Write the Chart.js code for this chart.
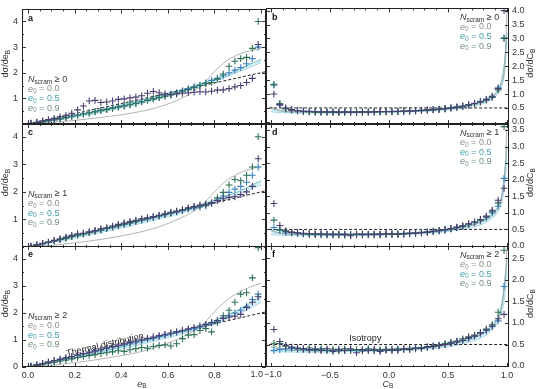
<!DOCTYPE html>
<html>
<head>
<meta charset="utf-8">
<script src="https://cdn.jsdelivr.net/npm/chart.js@4.4.0/dist/chart.umd.min.js"></script>
<style>
html, body { margin: 0; padding: 0; background: #fff; }
#wrap { position: relative; width: 540px; height: 389px; }
#wrap canvas { position: absolute; left: 0; top: 0; }
</style>
</head>
<body>
<div id="wrap">
<canvas id="pa" width="540" height="389"></canvas>
<canvas id="pb" width="540" height="389"></canvas>
<canvas id="pc" width="540" height="389"></canvas>
<canvas id="pd" width="540" height="389"></canvas>
<canvas id="pe" width="540" height="389"></canvas>
<canvas id="pf" width="540" height="389"></canvas>
</div>
<script>
// bin centres
const eBins = [0.0125,0.0375,0.0625,0.0875,0.1125,0.1375,0.1625,0.1875,0.2125,0.2375,0.2625,0.2875,0.3125,0.3375,0.3625,0.3875,0.4125,0.4375,0.4625,0.4875,0.5125,0.5375,0.5625,0.5875,0.6125,0.6375,0.6625,0.6875,0.7125,0.7375,0.7625,0.7875,0.8125,0.8375,0.8625,0.8875,0.9125,0.9375,0.9625,0.9875];
const cBins = [-0.975,-0.925,-0.875,-0.825,-0.775,-0.725,-0.675,-0.625,-0.575,-0.525,-0.475,-0.425,-0.375,-0.325,-0.275,-0.225,-0.175,-0.125,-0.075,-0.025,0.025,0.075,0.125,0.175,0.225,0.275,0.325,0.375,0.425,0.475,0.525,0.575,0.625,0.675,0.725,0.775,0.825,0.875,0.925,0.975];

// model curve grids
const eGrid = [0,0.1,0.2,0.3,0.4,0.5,0.6,0.7,0.75,0.8,0.85,0.9,0.95,1.0];
const cGrid = [-1.0,-0.95,-0.9,-0.8,-0.6,-0.4,-0.2,0,0.2,0.4,0.6,0.7,0.8,0.85,0.9,0.95,0.98,1.0];

// reference lines (thermal distribution, isotropy)
const thermalE = [0, 1.05];
const thermalV = [0, 2.1];
const isoC = [-1.1, 1.1];
const isoV = [0.5, 0.5];

// tick labels
const eTickLabels = [0, 0.2, 0.4, 0.6, 0.8, 1.0];
const eMinor = [0,0.05,0.1,0.15,0.2,0.25,0.3,0.35,0.4,0.45,0.5,0.55,0.6,0.65,0.7,0.75,0.8,0.85,0.9,0.95,1];
const cTickLabels = [-1.0, -0.5, 0.0, 0.5, 1.0];
const cMinor = [-1,-0.9,-0.8,-0.7,-0.6,-0.5,-0.4,-0.3,-0.2,-0.1,0,0.1,0.2,0.3,0.4,0.5,0.6,0.7,0.8,0.9,1];
const yLabelsAC = [1, 2, 3, 4];
const yLabelsE = [0, 1, 2, 3, 4];
const yMinorLeft = [0,0.5,1,1.5,2,2.5,3,3.5,4];
const yLabelsB = [0,0.5,1,1.5,2,2.5,3,3.5,4];
const yLabelsD = [0,0.5,1,1.5,2,2.5,3,3.5];
const yLabelsF = [0,0.5,1,1.5,2,2.5];

// panel a (N_scram >= 0), e0 = 0.0 / 0.5 / 0.9
const aE00 = [0.03,0.07,0.12,0.17,0.22,0.28,0.34,0.42,0.55,0.7,0.9,0.92,0.84,0.86,0.9,0.96,0.98,1.02,1.05,1.1,1.2,1.27,1.22,1.17,1.15,1.17,1.2,1.22,1.24,1.26,1.25,1.28,1.32,1.33,1.38,1.45,1.5,1.62,1.78,3.1];
const aE05 = [0.02,0.05,0.08,0.12,0.16,0.2,0.25,0.3,0.34,0.39,0.43,0.47,0.52,0.56,0.61,0.66,0.7,0.75,0.8,0.86,0.92,0.98,1.03,1.08,1.13,1.2,1.26,1.34,1.42,1.5,1.58,1.62,1.75,1.95,2.25,2.45,2.55,2.6,2.95,4.0];
const aE09 = [0.02,0.05,0.09,0.13,0.17,0.21,0.26,0.3,0.35,0.4,0.44,0.49,0.54,0.58,0.63,0.68,0.72,0.77,0.82,0.87,0.93,0.98,1.04,1.1,1.16,1.22,1.3,1.38,1.45,1.52,1.6,1.7,1.78,1.88,2.0,2.1,2.2,2.35,2.55,3.0];
const aM1 = [0,0.06,0.14,0.24,0.36,0.52,0.78,1.2,1.55,2.05,2.45,2.7,2.85,2.95];
const aM2 = [0,0.15,0.32,0.52,0.74,0.96,1.2,1.45,1.6,1.75,1.92,2.12,2.32,2.52];
const aM3 = [0,0.12,0.26,0.43,0.62,0.83,1.07,1.35,1.5,1.66,1.83,2.02,2.2,2.4];

// panel c (N_scram >= 1)
const cE00 = [0.03,0.08,0.13,0.18,0.24,0.3,0.36,0.42,0.48,0.5,0.55,0.6,0.66,0.7,0.76,0.82,0.87,0.92,0.97,1.02,1.06,1.1,1.15,1.2,1.26,1.3,1.35,1.42,1.47,1.52,1.55,1.6,1.68,1.75,1.8,1.82,1.9,2.0,2.2,3.2];
const cE05 = [0.02,0.07,0.12,0.17,0.22,0.27,0.32,0.38,0.44,0.48,0.53,0.58,0.62,0.68,0.73,0.78,0.84,0.88,0.94,0.99,1.04,1.09,1.14,1.19,1.24,1.28,1.34,1.4,1.45,1.48,1.52,1.6,1.78,1.98,2.25,2.45,2.4,2.6,2.9,4.0];
const cE09 = [0.02,0.07,0.12,0.17,0.22,0.27,0.33,0.38,0.43,0.48,0.53,0.57,0.62,0.67,0.72,0.77,0.82,0.87,0.92,0.97,1.02,1.07,1.12,1.17,1.22,1.27,1.32,1.38,1.42,1.45,1.5,1.58,1.7,1.85,1.98,2.1,2.2,2.35,2.6,2.9];
const cM1 = [0,0.06,0.15,0.26,0.4,0.58,0.85,1.25,1.55,2.0,2.4,2.65,2.82,2.92];
const cM2 = [0,0.18,0.37,0.56,0.76,0.97,1.18,1.42,1.55,1.7,1.85,2.0,2.2,2.4];
const cM3 = [0,0.15,0.32,0.5,0.69,0.89,1.1,1.33,1.47,1.6,1.75,1.9,2.08,2.25];

// panel e (N_scram >= 2)
const eE00 = [0.03,0.08,0.13,0.18,0.24,0.29,0.34,0.39,0.45,0.5,0.55,0.6,0.66,0.71,0.76,0.81,0.86,0.91,0.96,1.01,1.06,1.11,1.16,1.21,1.26,1.31,1.36,1.41,1.46,1.52,1.58,1.65,1.72,1.8,1.85,1.88,1.95,2.2,2.4,2.6];
const eE05 = [0.02,0.06,0.1,0.14,0.18,0.22,0.26,0.31,0.35,0.39,0.43,0.46,0.5,0.53,0.56,0.6,0.58,0.64,0.68,0.72,0.7,0.76,0.8,0.82,0.78,0.86,1.05,1.18,1.2,1.35,1.42,1.3,1.65,1.9,2.1,2.4,2.7,2.75,3.3,4.42];
const eE09 = [0.03,0.08,0.13,0.18,0.23,0.28,0.33,0.38,0.43,0.48,0.53,0.58,0.63,0.68,0.73,0.78,0.83,0.88,0.93,0.98,1.03,1.08,1.13,1.18,1.23,1.28,1.33,1.38,1.42,1.48,1.55,1.62,1.7,1.8,1.9,2.0,2.1,2.25,2.5,2.7];
const eM1 = [0,0.07,0.16,0.28,0.42,0.6,0.88,1.28,1.58,2.05,2.45,2.75,2.95,3.1];
const eM2 = [0,0.17,0.35,0.54,0.74,0.95,1.17,1.42,1.56,1.72,1.9,2.1,2.35,2.6];
const eM3 = [0,0.14,0.3,0.48,0.67,0.87,1.08,1.32,1.45,1.6,1.77,1.95,2.15,2.4];

// panel b (N_scram >= 0)
const bE00 = [1.0,0.62,0.5,0.44,0.4,0.38,0.37,0.36,0.36,0.35,0.36,0.35,0.36,0.34,0.35,0.36,0.35,0.36,0.37,0.36,0.37,0.38,0.38,0.39,0.4,0.41,0.43,0.44,0.45,0.47,0.5,0.53,0.56,0.6,0.66,0.72,0.8,0.92,1.2,4.0];
const bE05 = [1.35,0.66,0.47,0.42,0.39,0.37,0.36,0.35,0.34,0.35,0.34,0.33,0.34,0.35,0.36,0.34,0.36,0.35,0.36,0.37,0.36,0.37,0.39,0.38,0.4,0.4,0.42,0.43,0.46,0.48,0.49,0.52,0.57,0.61,0.65,0.71,0.78,0.88,1.15,3.0];
const bE09 = [1.32,0.6,0.46,0.43,0.41,0.39,0.38,0.37,0.36,0.36,0.35,0.36,0.35,0.36,0.34,0.35,0.36,0.37,0.36,0.37,0.38,0.37,0.38,0.4,0.39,0.42,0.42,0.45,0.45,0.47,0.5,0.54,0.55,0.62,0.67,0.74,0.82,0.9,1.22,3.02];
const bM1 = [0.55,0.44,0.39,0.36,0.35,0.35,0.36,0.37,0.39,0.44,0.53,0.61,0.73,0.83,0.98,1.35,2.0,4.0];
const bM2 = [0.5,0.42,0.38,0.35,0.34,0.35,0.36,0.37,0.4,0.45,0.55,0.63,0.76,0.87,1.03,1.42,2.2,3.2];
const bM3 = [0.36,0.34,0.33,0.32,0.32,0.32,0.33,0.34,0.36,0.4,0.48,0.55,0.66,0.76,0.9,1.22,1.8,2.9];

// panel d (N_scram >= 1)
const dE00 = [1.28,0.62,0.46,0.42,0.4,0.38,0.37,0.36,0.37,0.35,0.36,0.34,0.35,0.31,0.36,0.35,0.34,0.36,0.35,0.37,0.36,0.35,0.37,0.38,0.39,0.4,0.42,0.44,0.46,0.49,0.53,0.57,0.61,0.67,0.73,0.8,0.9,1.08,1.38,1.74];
const dE05 = [0.78,0.5,0.44,0.41,0.39,0.37,0.36,0.35,0.36,0.34,0.35,0.36,0.33,0.34,0.35,0.36,0.35,0.34,0.36,0.36,0.35,0.37,0.36,0.38,0.38,0.41,0.42,0.43,0.47,0.5,0.52,0.56,0.6,0.66,0.71,0.78,0.88,1.05,1.3,3.6];
const dE09 = [0.56,0.47,0.42,0.4,0.38,0.37,0.35,0.36,0.34,0.36,0.33,0.35,0.36,0.35,0.34,0.33,0.36,0.35,0.34,0.36,0.37,0.36,0.37,0.37,0.39,0.4,0.41,0.45,0.46,0.48,0.52,0.55,0.59,0.64,0.7,0.76,0.85,1.0,1.2,2.04];
const dM1 = [0.5,0.42,0.38,0.36,0.35,0.35,0.36,0.37,0.39,0.44,0.54,0.62,0.75,0.86,1.02,1.4,2.1,3.6];
const dM2 = [0.46,0.4,0.37,0.35,0.34,0.35,0.36,0.37,0.4,0.45,0.56,0.64,0.78,0.9,1.06,1.45,2.2,3.0];
const dM3 = [0.34,0.33,0.32,0.32,0.32,0.32,0.33,0.34,0.36,0.4,0.49,0.56,0.67,0.77,0.92,1.25,1.8,2.6];

// panel f (N_scram >= 2)
const fE00 = [0.85,0.57,0.48,0.44,0.42,0.4,0.38,0.39,0.36,0.4,0.34,0.38,0.36,0.4,0.31,0.38,0.36,0.39,0.34,0.37,0.38,0.36,0.4,0.38,0.42,0.41,0.44,0.45,0.48,0.5,0.53,0.57,0.6,0.66,0.7,0.77,0.84,0.93,1.1,1.2];
const fE05 = [0.53,0.52,0.46,0.43,0.41,0.4,0.42,0.37,0.4,0.36,0.39,0.35,0.4,0.36,0.38,0.35,0.4,0.36,0.38,0.39,0.36,0.4,0.39,0.41,0.4,0.43,0.45,0.47,0.48,0.52,0.55,0.58,0.63,0.68,0.72,0.78,0.86,0.96,1.25,2.69];
const fE09 = [0.36,0.38,0.4,0.41,0.39,0.38,0.37,0.4,0.38,0.37,0.36,0.39,0.37,0.38,0.36,0.37,0.39,0.37,0.36,0.38,0.39,0.38,0.39,0.4,0.42,0.41,0.43,0.46,0.47,0.5,0.53,0.56,0.6,0.64,0.69,0.75,0.82,0.92,1.05,1.85];
const fM1 = [0.5,0.44,0.4,0.37,0.36,0.36,0.37,0.38,0.4,0.45,0.55,0.63,0.76,0.86,1.0,1.3,1.9,2.7];
const fM2 = [0.45,0.41,0.38,0.36,0.35,0.36,0.37,0.38,0.41,0.46,0.56,0.64,0.77,0.88,1.03,1.38,1.95,2.5];
const fM3 = [0.34,0.33,0.33,0.32,0.32,0.33,0.34,0.35,0.37,0.41,0.5,0.57,0.68,0.78,0.92,1.2,1.6,2.2];

const e0Labels = ['0.0', '0.5', '0.9'];

const FONT = '"Liberation Sans", Arial, sans-serif';
const SERIES_COLORS = ['#4a3f70', '#2f7256', '#3b84c6'];
const MODEL_COLORS = ['#a0a0a0', '#62b4ae', '#9ed2de'];
const LEGEND_COLORS = ['#8c8c8c', '#3f9eaa', '#718f80'];

Chart.defaults.font.family = FONT;
Chart.defaults.font.size = 9;
Chart.defaults.color = '#333';

function xy(xs, ys) {
    return ys.map((v, i) => ({ x: xs[i], y: v }));
}

function fontOf(k) {
    return (k === 'i' ? 'italic ' : k === 'b' ? 'bold ' : '') + (k === 's' ? 6.5 : 9) + 'px ' + FONT;
}

function richWidth(ctx, parts) {
    let w = 0;
    parts.forEach(([t, k]) => { ctx.font = fontOf(k); w += ctx.measureText(t).width; });
    return w;
}

// draws text with italic / subscript pieces
function rich(ctx, parts, x, y, center) {
    let cx = center ? x - richWidth(ctx, parts) / 2 : x;
    ctx.textBaseline = 'middle';
    ctx.textAlign = 'left';
    parts.forEach(([t, k]) => {
        ctx.font = fontOf(k);
        ctx.fillText(t, cx, k === 's' ? y + 2.5 : y);
        cx += ctx.measureText(t).width;
    });
}

function deco(p) {
    return {
        id: 'deco' + p.letter,
        afterDatasetsDraw(chart) {
            const { ctx, chartArea: a, scales: { x, y } } = chart;
            ctx.save();
            ctx.strokeStyle = '#333';
            ctx.lineWidth = 1;
            ctx.beginPath();
            const near = (arr, v) => arr.some(l => Math.abs(l - v) < 1e-9);
            p.xMinor.forEach(v => {
                const px = Math.round(x.getPixelForValue(v)) + 0.5;
                const len = near(p.xLabels, v) ? 4 : 2;
                ctx.moveTo(px, a.bottom); ctx.lineTo(px, a.bottom - len);
                ctx.moveTo(px, a.top); ctx.lineTo(px, a.top + len);
            });
            p.yMinor.forEach(v => {
                const py = Math.round(y.getPixelForValue(v)) + 0.5;
                const len = near(p.yLabels, v) ? 4 : 2;
                ctx.moveTo(a.left, py); ctx.lineTo(a.left + len, py);
                ctx.moveTo(a.right, py); ctx.lineTo(a.right - len, py);
            });
            ctx.stroke();
            ctx.strokeStyle = '#222';
            ctx.strokeRect(Math.round(a.left) + 0.5, Math.round(a.top) + 0.5,
                Math.round(a.right - a.left) - 1, Math.round(a.bottom - a.top) - 1);

            // panel letter
            ctx.fillStyle = '#111';
            rich(ctx, [[p.letter, 'b']], a.left + 6, a.top + 9, false);

            // legend block
            const lx = p.left ? a.left + 6 : a.right - 49;
            const ly = p.left ? a.top + 70 : a.top + 9;
            ctx.fillStyle = '#333';
            rich(ctx, [['N', 'i'], ['scram', 's'], [' \u2265 ' + p.nScram, 'n']], lx, ly, false);
            e0Labels.forEach((t, i) => {
                ctx.fillStyle = LEGEND_COLORS[i];
                rich(ctx, [['e', 'i'], ['0', 's'], [' = ' + t, 'n']], lx, ly + 9.6 * (i + 1), false);
            });

            // y title
            ctx.fillStyle = '#333';
            ctx.save();
            const ty = (a.top + a.bottom) / 2 - 3;
            ctx.translate(p.left ? 5.5 : 531, ty);
            ctx.rotate(-Math.PI / 2);
            rich(ctx, [['d\u03c3/d', 'n'], [p.left ? 'e' : 'C', 'n'], ['B', 's']], 0, 0, true);
            ctx.restore();

            // x title and edge tick label
            if (p.xTitle) {
                rich(ctx, [[p.left ? 'e' : 'C', 'i'], ['B', 's']], p.left ? 142 : 388, 384, true);
                ctx.font = fontOf('n');
                ctx.textBaseline = 'middle';
                if (p.left) {
                    ctx.textAlign = 'right';
                    ctx.fillText('1.0', 263, 374.5);
                } else {
                    ctx.textAlign = 'left';
                    ctx.fillText('\u22121.0', 264, 374.5);
                }
            }

            // annotation along the reference line
            if (p.note) {
                ctx.fillStyle = '#222';
                ctx.save();
                ctx.translate(x.getPixelForValue(p.note.x), y.getPixelForValue(p.note.y));
                if (p.left) {
                    const ang = Math.atan2(y.getPixelForValue(thermalV[1]) - y.getPixelForValue(thermalV[0]),
                        x.getPixelForValue(thermalE[1]) - x.getPixelForValue(thermalE[0]));
                    ctx.rotate(ang);
                }
                rich(ctx, [[p.note.text, 'n']], 0, 0, true);
                ctx.restore();
            }
            ctx.restore();
        }
    };
}

function panel(id, p) {
    const xh = p.xTitle ? 22 : 0;
    const yw = p.left ? 22 : 31;
    const bins = p.left ? eBins : cBins;
    const grid = p.left ? eGrid : cGrid;
    const datasets = [];
    p.series.forEach((arr, i) => {
        datasets.push({
            type: 'scatter', data: xy(bins, arr), pointStyle: 'cross',
            pointRadius: 3.4, pointBorderWidth: 1.1,
            borderColor: SERIES_COLORS[i], backgroundColor: SERIES_COLORS[i], order: 0
        });
    });
    datasets.push({
        type: 'line', data: p.left ? xy(thermalE, thermalV) : xy(isoC, isoV),
        borderColor: '#222', borderWidth: 1, borderDash: [3, 2], pointRadius: 0, fill: false, order: 1
    });
    p.models.forEach((arr, i) => {
        datasets.push({
            type: 'line', data: xy(grid, arr), borderColor: MODEL_COLORS[i], borderWidth: 0.8,
            pointRadius: 0, cubicInterpolationMode: 'monotone',
            fill: i === 2 ? '-1' : false, backgroundColor: 'rgba(165,222,234,0.45)', order: 2
        });
    });

    const xLabels = p.left ? eTickLabels : cTickLabels;
    new Chart(document.getElementById(id), {
        data: { datasets: datasets },
        options: {
            responsive: false,
            animation: false,
            events: [],
            layout: {
                padding: {
                    left: p.left ? p.box[0] - yw : p.box[0],
                    top: p.box[1],
                    right: p.left ? 540 - p.box[2] : 540 - p.box[2] - yw,
                    bottom: 389 - p.box[3] - xh
                }
            },
            scales: {
                x: {
                    type: 'linear', min: p.xMin, max: p.xMax,
                    afterFit: s => { s.height = xh; },
                    afterBuildTicks: s => { s.ticks = xLabels.map(v => ({ value: v })); },
                    ticks: {
                        display: !!p.xTitle, autoSkip: false, maxRotation: 0, padding: 3, color: '#333',
                        callback: v => {
                            if (p.left && v === 1) return '';
                            if (!p.left && v === -1) return '';
                            return v.toFixed(1).replace('-', '\u2212');
                        }
                    },
                    grid: { display: false, drawTicks: false },
                    border: { display: false }
                },
                y: {
                    type: 'linear', position: p.left ? 'left' : 'right', min: p.yMin, max: p.yMax,
                    afterFit: s => { s.width = yw; },
                    afterBuildTicks: s => { s.ticks = p.yLabels.map(v => ({ value: v })); },
                    ticks: {
                        autoSkip: false, padding: p.left ? 4 : 3, color: '#333',
                        callback: v => p.left ? String(v) : v.toFixed(1)
                    },
                    grid: { display: false, drawTicks: false },
                    border: { display: false }
                }
            },
            plugins: { legend: { display: false }, tooltip: { enabled: false } }
        },
        plugins: [deco(Object.assign({ xLabels: xLabels, xMinor: p.left ? eMinor : cMinor }, p))]
    });
}

const leftX = { xMin: -0.026, xMax: 1.021 };
const rightX = { xMin: -1.042, xMax: 1.017 };

panel('pa', Object.assign({
    letter: 'a', left: true, nScram: 0, box: [22, 1, 266, 124], yMin: 0, yMax: 4.47,
    yLabels: yLabelsAC, yMinor: yMinorLeft, series: [aE00, aE05, aE09], models: [aM1, aM2, aM3]
}, leftX));
panel('pc', Object.assign({
    letter: 'c', left: true, nScram: 1, box: [22, 124, 266, 247], yMin: 0, yMax: 4.46,
    yLabels: yLabelsAC, yMinor: yMinorLeft, series: [cE00, cE05, cE09], models: [cM1, cM2, cM3]
}, leftX));
panel('pe', Object.assign({
    letter: 'e', left: true, nScram: 2, box: [22, 246, 266, 367], yMin: 0, yMax: 4.48, xTitle: true,
    yLabels: yLabelsE, yMinor: yMinorLeft, series: [eE00, eE05, eE09], models: [eM1, eM2, eM3],
    note: { text: 'Thermal distribution', x: 0.33, y: 0.82 }
}, leftX));
panel('pb', Object.assign({
    letter: 'b', left: false, nScram: 0, box: [266, 1, 509, 124], yMin: -0.078, yMax: 4.08,
    yLabels: yLabelsB, yMinor: yLabelsB, series: [bE00, bE05, bE09], models: [bM1, bM2, bM3]
}, rightX));
panel('pd', Object.assign({
    letter: 'd', left: false, nScram: 1, box: [266, 124, 509, 247], yMin: -0.03, yMax: 3.68,
    yLabels: yLabelsD, yMinor: yLabelsD, series: [dE00, dE05, dE09], models: [dM1, dM2, dM3]
}, rightX));
panel('pf', Object.assign({
    letter: 'f', left: false, nScram: 2, box: [266, 246, 509, 367], yMin: -0.023, yMax: 2.79, xTitle: true,
    yLabels: yLabelsF, yMinor: yLabelsF, series: [fE00, fE05, fE09], models: [fM1, fM2, fM3],
    note: { text: 'Isotropy', x: -0.2, y: 0.63 }
}, rightX));
</script>
</body>
</html>
